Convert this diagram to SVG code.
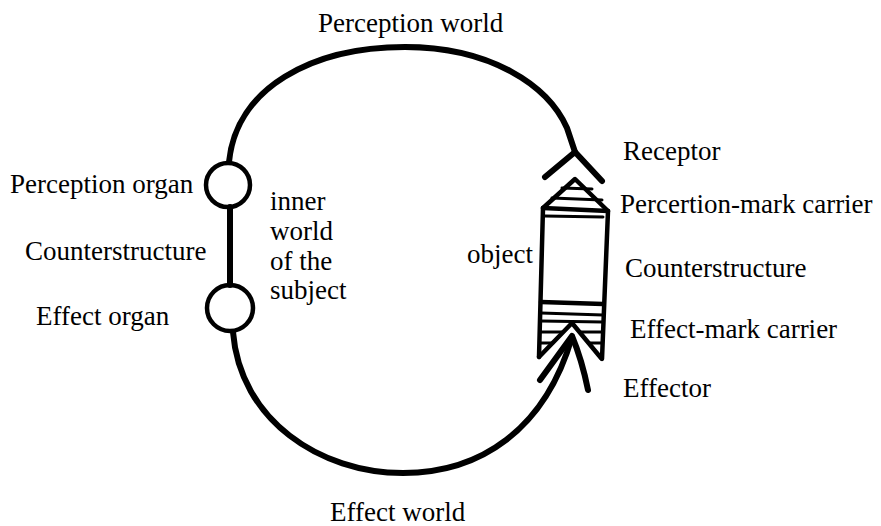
<svg xmlns="http://www.w3.org/2000/svg" width="881" height="526" viewBox="0 0 881 526">
<style>
text{font-family:"Liberation Serif","Times New Roman",serif;font-size:27px;fill:#000}
.ln{fill:none;stroke:#000;stroke-linecap:round;stroke-linejoin:round}
.th{stroke-width:6}
.md{stroke-width:4.5}
.tn{stroke-width:3}
</style>
<rect width="881" height="526" fill="#fff"/>
<g id="connectors">
<path class="ln th" d="M229,162 C236,88 312,47 405,47 C490,47 548,85 567,128 L575,152"/>
<path class="ln th" d="M233,332 C240,420 320,473 403,473 C480,473 545,430 572,337"/>
<path class="ln th" d="M230,207 L230,285"/>
</g>
<g id="perception-organ">
<circle class="ln md" cx="228" cy="185" r="22"/>
<text x="10" y="193">Perception organ</text>
</g>
<g id="effect-organ">
<circle class="ln md" cx="230" cy="308" r="23"/>
<text x="36" y="325">Effect organ</text>
</g>
<g id="counterstructure-left">
<text x="25" y="260">Counterstructure</text>
</g>
<g id="inner-world">
<text x="270" y="210">inner</text>
<text x="270" y="240">world</text>
<text x="270" y="270">of the</text>
<text x="270" y="299">subject</text>
</g>
<g id="receptor">
<path class="ln th" d="M545,177 L575,152 L602,181"/>
<text x="623" y="160">Receptor</text>
</g>
<g id="object">
<path class="ln md" d="M543,208 L575,179 L608,211"/>
<path class="ln tn" d="M562,188 L592,189 M552,198 L602,200"/>
<path class="ln md" d="M543,208 L608,211"/>
<path class="ln tn" d="M545,216 L603,217"/>
<path class="ln md" d="M543,208 L539,357 M608,211 L602,359"/>
<path class="ln md" d="M541,302 L603,304"/>
<path class="ln tn" d="M541,313 L603,315 M541,321 L603,322 M541,332 L563,332 M580,332 L603,332 M540,343 L553,343 M589,343 L602,343"/>
<path class="ln md" d="M539,357 L572,323 L601,358"/>
<text x="467" y="263">object</text>
</g>
<g id="effector">
<path class="ln th" d="M540,380 L572,336 Q582,360 588,390"/>
<text x="623" y="397">Effector</text>
</g>
<g id="labels-right">
<text x="620" y="213">Percertion-mark carrier</text>
<text x="625" y="277">Counterstructure</text>
<text x="630" y="338">Effect-mark carrier</text>
</g>
<g id="world-labels">
<text x="318" y="32">Perception world</text>
<text x="330" y="521">Effect world</text>
</g>
</svg>
